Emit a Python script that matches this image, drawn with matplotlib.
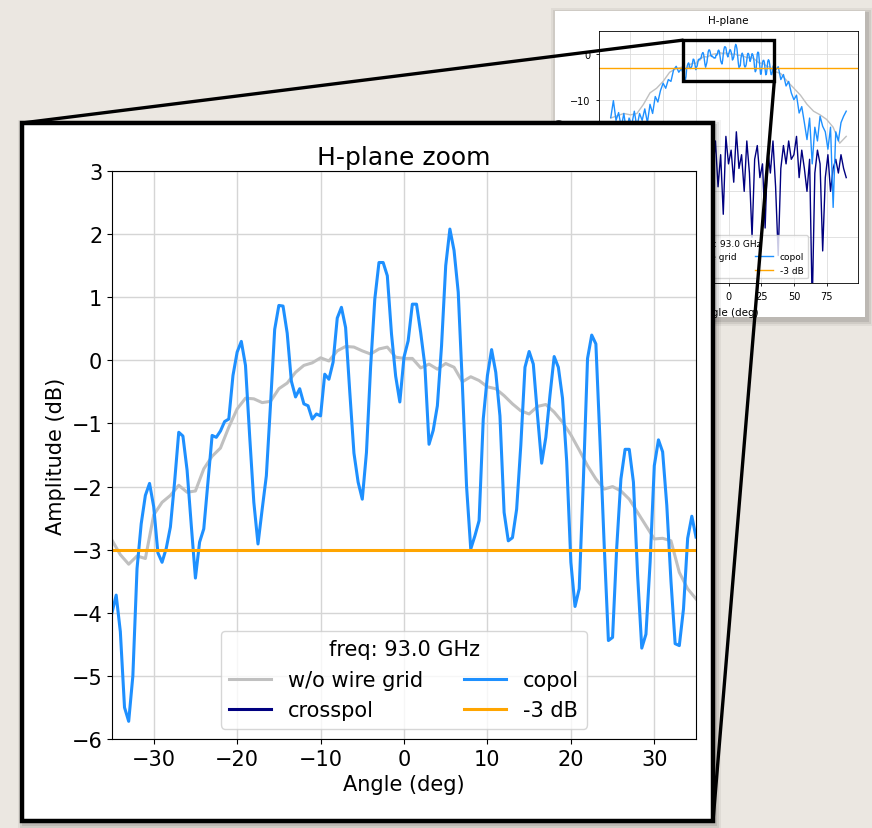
import numpy as np
import matplotlib.pyplot as plt
from matplotlib.patches import Rectangle, ConnectionPatch

# ---- zoomed data (-35 .. 35 deg) ----
angle_zoom = np.arange(-35, 35.5, 0.5)
copol_zoom = [
    -4.0, -3.72, -4.3, -5.5, -5.72, -5.0, -3.3, -2.59, -2.14, -1.95,
    -2.32, -3.05, -3.2, -2.98, -2.64, -1.93, -1.14, -1.2, -1.74, -2.61,
    -3.45, -2.88, -2.67, -1.93, -1.19, -1.22, -1.12, -0.97, -0.93, -0.24,
    0.13, 0.30, -0.08, -1.2, -2.25, -2.91, -2.36, -1.83, -0.7, 0.49,
    0.87, 0.86, 0.43, -0.33, -0.58, -0.45, -0.69, -0.72, -0.93, -0.85,
    -0.88, -0.22, -0.30, -0.03, 0.67, 0.84, 0.52, -0.5, -1.47, -1.93,
    -2.2, -1.46, -0.1, 0.97, 1.55, 1.55, 1.34, 0.42, -0.25, -0.66,
    0.05, 0.31, 0.89, 0.89, 0.44, -0.08, -1.33, -1.11, -0.72, 0.23,
    1.50, 2.08, 1.74, 1.08, -0.4, -2.0, -2.99, -2.78, -2.54, -0.93,
    -0.24, 0.17, -0.19, -0.88, -2.41, -2.86, -2.81, -2.36, -1.35, -0.11,
    0.14, -0.06, -0.87, -1.63, -1.22, -0.55, 0.06, -0.11, -0.6, -1.6,
    -3.2, -3.9, -3.62, -1.9, 0.03, 0.4, 0.26, -1.3, -2.94, -4.44,
    -4.39, -2.96, -1.88, -1.41, -1.41, -1.93, -3.4, -4.56, -4.34, -3.2,
    -1.67, -1.26, -1.45, -2.3, -3.5, -4.49, -4.52, -3.94, -2.82, -2.47,
    -2.8,
]

angle_ref = np.arange(-35, 36, 1)
nogrid_zoom = [
    -2.85, -3.08, -3.23, -3.1, -3.14, -2.45, -2.25, -2.14, -1.98, -2.09,
    -2.07, -1.72, -1.52, -1.39, -1.06, -0.77, -0.6, -0.61, -0.67, -0.65,
    -0.45, -0.36, -0.19, -0.08, -0.04, 0.04, -0.01, 0.15, 0.22, 0.21,
    0.15, 0.10, 0.18, 0.21, 0.05, 0.03, 0.03, -0.12, -0.06, -0.14,
    -0.05, -0.11, -0.34, -0.26, -0.32, -0.42, -0.45, -0.56, -0.69, -0.8,
    -0.85, -0.73, -0.7, -0.82, -0.98, -1.18, -1.42, -1.67, -1.88, -2.04,
    -2.0, -2.07, -2.2, -2.41, -2.62, -2.83, -2.82, -2.86, -3.36, -3.62,
    -3.78,
]

# ---- wide-angle data for the full H-plane view ----
angle_left = np.arange(-90, -35, 2)
copol_left = [
    -13.9, -10.2, -14.5, -12.8, -16, -13, -17, -14, -15.5, -12.5,
    -16, -13, -14.5, -12, -15, -11, -13, -9.3, -10.5, -8,
    -6.4, -7.5, -5.6, -6, -3.5, -2.7, -4, -3.2,
]
angle_right = np.arange(36, 91, 2)
copol_right = [
    -3.5, -2.8, -5.6, -4.5, -7, -6, -8.5, -10, -9, -12.9,
    -11.5, -15, -18.7, -14, -24, -16, -19, -13.6, -15.8, -17,
    -20.8, -16, -33.5, -17, -19, -15, -13.6, -12.5,
]
angle_ref_left = np.arange(-90, -39, 5)
nogrid_left = [-14, -13.5, -13, -13.3, -13, -11, -8.5, -7.5, -6, -4, -3.2]
angle_ref_right = np.arange(40, 91, 5)
nogrid_right = [-4.3, -6, -7.5, -9, -11, -12.5, -13.3, -14.3, -16, -19.5, -18]

angle_cross = np.arange(-90, 91, 2)
crosspol = [
    -22, -27, -24, -30, -25, -21, -28, -24, -33, -26,
    -23, -29, -25, -36, -27, -24, -30, -26, -22, -28,
    -25, -31, -24, -27, -35, -23, -26, -29, -21, -25,
    -28, -23, -38, -26, -22, -27, -30, -24, -20, -26,
    -19, -29, -22, -35, -18, -24, -21, -28, -17, -25,
    -22, -30, -19, -26, -40, -23, -20, -27, -24, -38,
    -21, -26, -19, -29, -44, -25, -20, -24, -19, -23,
    -22, -18, -27, -21, -25, -30, -23, -55, -26, -21,
    -24, -43, -27, -22, -30, -25, -23, -26, -22, -25,
    -27,
]

W, H = 872, 829


def fig_box(x0, y0, x1, y1):
    # pixel box (origin top-left) -> figure fraction [left, bottom, w, h]
    return [x0 / W, 1 - y1 / H, (x1 - x0) / W, (y1 - y0) / H]


fig = plt.figure(figsize=(W / 100, H / 100), dpi=100, facecolor="#ebe7e1")

# soft shadows
for k, a in [(6, 0.05), (4, 0.07), (2, 0.09)]:
    b = fig_box(555 - k + 2, 12 - k + 3, 865 + k + 2, 318 + k + 3)
    fig.patches.append(Rectangle(b[:2], b[2], b[3], transform=fig.transFigure,
                                 fc="black", ec="none", alpha=a, zorder=0.5))
    b = fig_box(22 - k + 2, 124 - k + 3, 713 + k + 2, 822 + k + 3)
    fig.patches.append(Rectangle(b[:2], b[2], b[3], transform=fig.transFigure,
                                 fc="black", ec="none", alpha=a, zorder=3.5))

# ---- full H-plane panel ----
b = fig_box(555, 12, 865, 318)
fig.patches.append(Rectangle(b[:2], b[2], b[3], transform=fig.transFigure,
                             fc="white", ec="none", zorder=1))

ax_in = fig.add_axes(fig_box(599, 32, 858, 284), zorder=2)
ax_in.plot(np.concatenate([angle_ref_left, angle_ref, angle_ref_right]),
           np.concatenate([nogrid_left, nogrid_zoom, nogrid_right]),
           color="silver", lw=1.0, label="w/o wire grid")
ax_in.plot(angle_cross, crosspol, color="navy", lw=1.0, label="crosspol")
ax_in.plot(np.concatenate([angle_left, angle_zoom, angle_right]),
           np.concatenate([copol_left, copol_zoom, copol_right]),
           color="dodgerblue", lw=1.0, label="copol")
ax_in.axhline(-3, color="orange", lw=1.0, label="-3 dB")
ax_in.set_ylim(-50, 5)
ax_in.set_title("H-plane", fontsize=7.5)
ax_in.set_xlabel("Angle (deg)", fontsize=7.5)
ax_in.set_ylabel("Amplitude (dB)", fontsize=7.5)
ax_in.tick_params(labelsize=7, width=0.6, length=2.5)
ax_in.grid(True, color="#dddddd", lw=0.6)
for s in ax_in.spines.values():
    s.set_linewidth(0.6)
ax_in.legend(title="freq: 93.0 GHz", ncol=2, loc="lower center",
             fontsize=6.5, title_fontsize=6.5)
ax_in.add_patch(Rectangle((-35, -6), 70, 9, fill=False, ec="black", lw=2.4,
                          zorder=10))

# connector lines
for (xa, ya), (xb, yb) in [((-35, 3), (22, 124)), ((35, -6), (713, 822))]:
    con = ConnectionPatch(xyA=(xa, ya), coordsA="data", axesA=ax_in,
                          xyB=(xb / W, 1 - yb / H), coordsB="figure fraction",
                          color="black", lw=2.4)
    con.set_zorder(3)
    fig.add_artist(con)

# ---- zoom panel ----
b = fig_box(22, 124, 713, 822)
fig.patches.append(Rectangle(b[:2], b[2], b[3], transform=fig.transFigure,
                             fc="white", ec="black", lw=3.2, zorder=4))

ax = fig.add_axes(fig_box(112, 172, 696, 740), zorder=5)
ax.plot(angle_ref, nogrid_zoom, color="silver", lw=2.2, label="w/o wire grid")
ax.plot(angle_cross, crosspol, color="navy", lw=2.2, label="crosspol")
ax.plot(angle_zoom, copol_zoom, color="dodgerblue", lw=2.2, label="copol")
ax.axhline(-3, color="orange", lw=2.2, label="-3 dB")
ax.set_xlim(-35, 35)
ax.set_ylim(-6, 3)
ax.set_xticks([-30, -20, -10, 0, 10, 20, 30])
ax.set_yticks(np.arange(-6, 4, 1))
ax.grid(True, color="#d5d5d5", lw=1.0)
ax.tick_params(labelsize=15)
ax.set_title("H-plane zoom", fontsize=18, pad=5)
ax.set_xlabel("Angle (deg)", fontsize=15)
ax.set_ylabel("Amplitude (dB)", fontsize=15)
ax.legend(title="freq: 93.0 GHz", ncol=2, loc="lower center",
          fontsize=15, title_fontsize=15)

fig.savefig("out.png", dpi=100)
